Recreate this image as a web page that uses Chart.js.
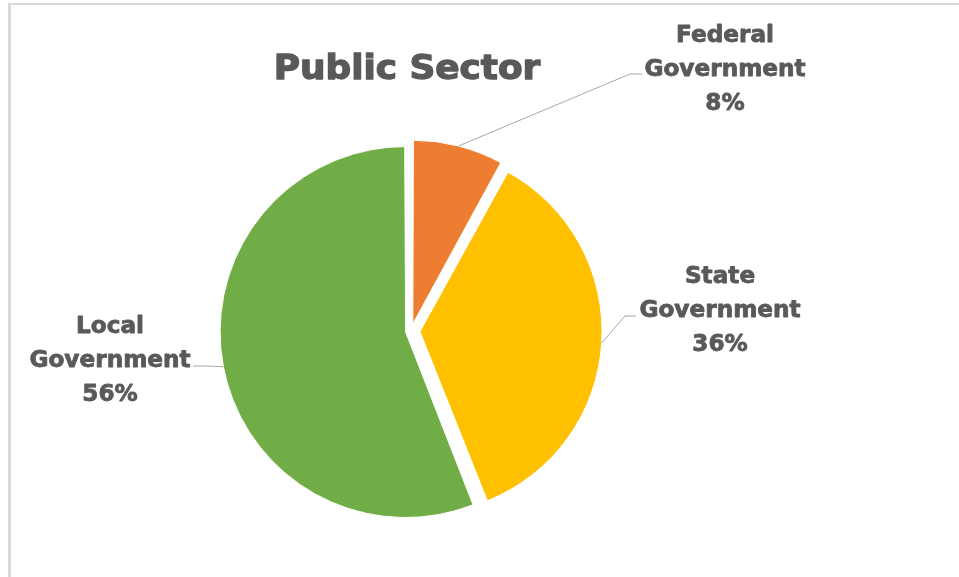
<!DOCTYPE html>
<html>
<head>
<meta charset="utf-8">
<title>Public Sector</title>
<script src="https://cdn.jsdelivr.net/npm/chart.js@4.4.1/dist/chart.umd.min.js"></script>
<style>
    html, body {
        margin: 0;
        padding: 0;
        background: #ffffff;
    }
    .chart-wrap {
        position: relative;
        width: 959px;
        height: 577px;
        overflow: hidden;
    }
    .chart-frame {
        position: absolute;
        left: 8px;
        top: 3px;
        right: -4px;
        bottom: -4px;
        border-top: 2px solid #d9d9d9;
        border-left: 3px solid #d9d9d9;
        pointer-events: none;
    }
</style>
</head>
<body>
<div class="chart-wrap">
    <canvas id="sectorChart" width="959" height="577"></canvas>
    <div class="chart-frame"></div>
</div>

<script>
// data
const categories = ['Federal Government', 'State Government', 'Local Government'];
const shares = [8, 36, 56];
const chartTitle = 'Public Sector';

const sliceColors = ['#ED7D31', '#FFC000', '#70AD47'];
const textColor = '#595959';
const leaderColor = '#a6a6a6';
const labelFont = 'bold 22.5px "DejaVu Sans", sans-serif';
const titleFont = 'bold 33.5px "DejaVu Sans", sans-serif';

// Chart.js shrinks the arc offset (offset/4, more for thin slices),
// these give every slice roughly the same ~11px explosion
const sliceOffsets = [29, 36, 22];

// where each label sits (centre x, first baseline) and the leader line bends
const labelSpots = [
    { cx: 725, y: 42,  elbow: [630, 74],  end: [642, 74] },
    { cx: 720, y: 283, elbow: [625, 316], end: [636, 316] },
    { cx: 110, y: 333, elbow: [207, 366], end: [193, 366] }
];


// text drawn a bit wider and heavier, the original uses a chunky face
function drawHeavy(ctx, text, cx, baseline, stretch, weight) {
    ctx.save();
    ctx.translate(cx, baseline);
    ctx.scale(stretch, 1);
    ctx.textAlign = 'center';
    ctx.textBaseline = 'alphabetic';
    ctx.lineWidth = weight;
    ctx.lineJoin = 'round';
    ctx.strokeText(text, 0, 0);
    ctx.fillText(text, 0, 0);
    ctx.restore();
}

// same shift the arc element applies when it draws
function arcShift(offset, circumference) {
    const fix = 1 - Math.sin(Math.min(Math.PI, circumference || 0));
    return offset / 4 * (1 + fix);
}


const pieLabels = {
    id: 'pieLabels',
    afterDraw(chart) {
        const ctx = chart.ctx;
        const meta = chart.getDatasetMeta(0);

        ctx.save();
        ctx.fillStyle = textColor;

        ctx.strokeStyle = textColor;
        ctx.font = titleFont;
        drawHeavy(ctx, chartTitle, 407, 79, 1.07, 1.3);

        meta.data.forEach((arc, i) => {
            const p = arc.getProps(['x', 'y', 'startAngle', 'endAngle', 'outerRadius', 'circumference'], true);
            const mid = (p.startAngle + p.endAngle) / 2;
            const r = p.outerRadius + arcShift(sliceOffsets[i], p.circumference);
            const sx = p.x + Math.cos(mid) * r;
            const sy = p.y + Math.sin(mid) * r;
            const spot = labelSpots[i];

            ctx.strokeStyle = leaderColor;
            ctx.lineWidth = 1;
            ctx.beginPath();
            ctx.moveTo(sx, sy);
            ctx.lineTo(spot.elbow[0], spot.elbow[1]);
            ctx.lineTo(spot.end[0], spot.end[1]);
            ctx.stroke();

            const words = categories[i].split(' ');
            ctx.strokeStyle = textColor;
            ctx.font = labelFont;
            drawHeavy(ctx, words[0], spot.cx, spot.y, 1.03, 0.8);
            drawHeavy(ctx, words[1], spot.cx, spot.y + 33.5, 1.03, 0.8);
            drawHeavy(ctx, shares[i] + '%', spot.cx, spot.y + 67.5, 1.03, 0.8);
        });

        ctx.restore();
    }
};


const ctx = document.getElementById('sectorChart').getContext('2d');
new Chart(ctx, {
    type: 'pie',
    data: {
        labels: categories,
        datasets: [{
            data: shares,
            backgroundColor: sliceColors,
            borderColor: '#ffffff',
            borderWidth: 1,
            offset: sliceOffsets,
            hoverOffset: 0
        }]
    },
    options: {
        responsive: false,
        animation: false,
        layout: {
            padding: { left: 212.5, right: 349.5, top: 132.5, bottom: 47.5 }
        },
        plugins: {
            legend: { display: false },
            title: { display: false },
            tooltip: { enabled: false }
        },
        events: []
    },
    plugins: [pieLabels]
});
</script>
</body>
</html>
